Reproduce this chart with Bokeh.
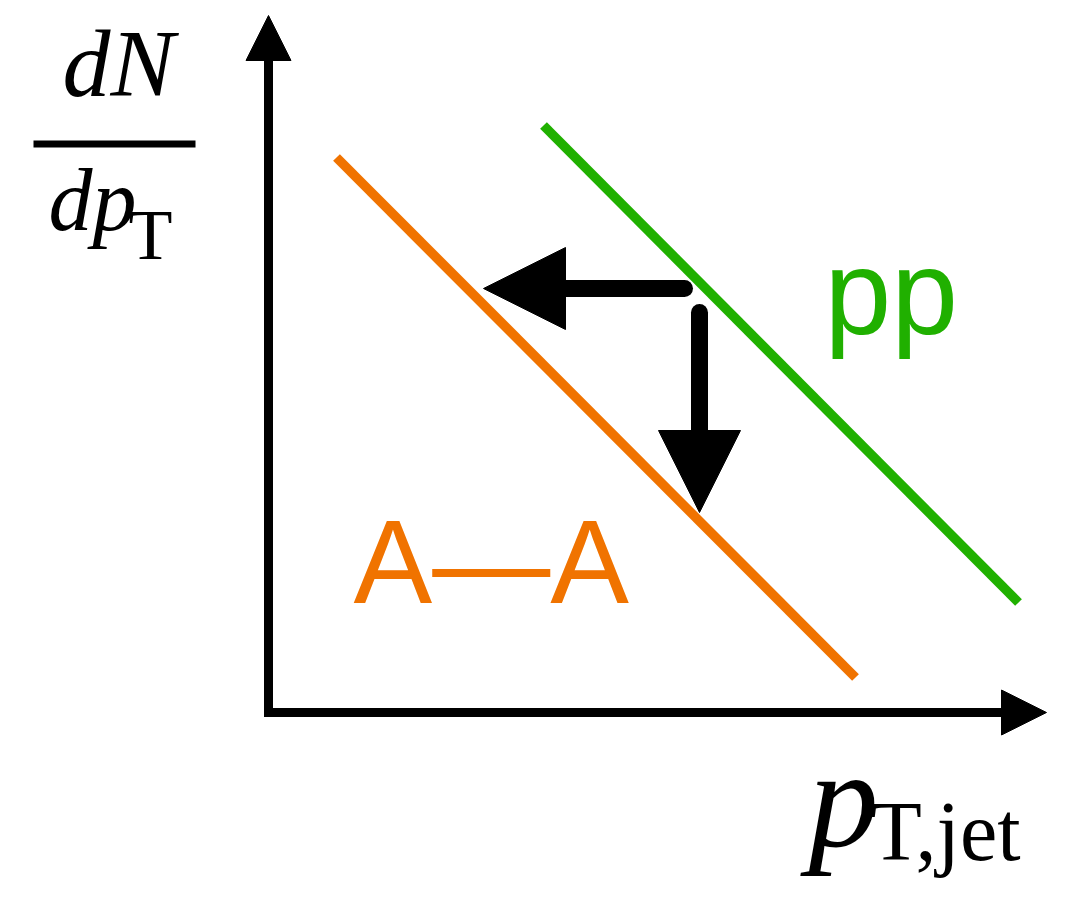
from bokeh.plotting import figure
from bokeh.models import Range1d, Arrow, NormalHead
from bokeh.core.properties import value
from bokeh.embed import file_html
from bokeh.resources import INLINE

# Schematic jet spectra (arbitrary units, origin at the corner of the axes)
pt_pp = [275, 750]
yield_pp = [587, 110]
pt_aa = [68, 587]
yield_aa = [555, 35]

# Axis extents
x_axis_end = 778
y_axis_end = 697

# Jet energy loss: shift in pT (left) and drop in yield (down)
shift_pt_start = 416
shift_pt_end = 215
shift_pt_level = 424
drop_start = 400
drop_end = 200
drop_pt = 431
head_len = 82

GREEN = "#20B000"
ORANGE = "#F07300"

p = figure(width=1092, height=909, output_backend="svg", toolbar_location=None,
           x_range=Range1d(-268, 824), y_range=Range1d(-197, 712),
           min_border=0, background_fill_color="white", border_fill_color="white")
p.axis.visible = False
p.grid.visible = False
p.outline_line_color = None

# spectra
p.line(pt_pp, yield_pp, line_color=GREEN, line_width=9.5)
p.line(pt_aa, yield_aa, line_color=ORANGE, line_width=9.5)

# axes drawn as arrows
p.add_layout(Arrow(end=NormalHead(size=45, fill_color="black", line_color="black", line_width=1),
                   x_start=0, y_start=-4.5, x_end=0, y_end=y_axis_end,
                   line_width=9, line_color="black"))
p.add_layout(Arrow(end=NormalHead(size=45, fill_color="black", line_color="black", line_width=1),
                   x_start=-4.5, y_start=0, x_end=x_axis_end, y_end=0,
                   line_width=9, line_color="black"))

# shift arrows: rounded shafts, then solid heads
p.segment(x0=[shift_pt_start, drop_pt],
          y0=[shift_pt_level, drop_start],
          x1=[shift_pt_end + head_len - 5, drop_pt],
          y1=[shift_pt_level, drop_end + head_len - 5],
          line_color="black", line_width=17, line_cap="round")
p.add_layout(Arrow(end=NormalHead(size=head_len, fill_color="black", line_color="black", line_width=1),
                   x_start=shift_pt_start, y_start=shift_pt_level,
                   x_end=shift_pt_end, y_end=shift_pt_level, line_color=None))
p.add_layout(Arrow(end=NormalHead(size=head_len, fill_color="black", line_color="black", line_width=1),
                   x_start=drop_pt, y_start=drop_start,
                   x_end=drop_pt, y_end=drop_end, line_color=None))

# series labels
p.text(x=[556], y=[421], text=["pp"], text_color=GREEN, text_font=value("Liberation Sans"),
       text_font_size="120px", text_align="left", text_baseline="alphabetic")
p.text(x=[85], y=[151], text=["A\u2014A"], text_color=ORANGE, text_font=value("Liberation Sans"),
       text_font_size="118px", text_align="left", text_baseline="alphabetic")

# y-axis title: dN / dp_T
p.text(x=[-150], y=[649], text=["dN"], text_color="black", text_font=value("Liberation Serif"),
       text_font_style="italic", text_font_size="96px", text_align="center",
       text_baseline="alphabetic")
p.segment(x0=[-235], y0=[568.5], x1=[-73], y1=[568.5], line_color="black", line_width=7)
p.text(x=[-220], y=[512], text=["dp"], text_color="black", text_font=value("Liberation Serif"),
       text_font_style="italic", text_font_size="88px", text_align="left",
       text_baseline="alphabetic")
p.text(x=[-140], y=[478], text=["T"], text_color="black", text_font=value("Liberation Serif"),
       text_font_size="72px", text_align="left", text_baseline="alphabetic")

# x-axis title: p_T,jet
p.text(x=[540], y=[-86], text=["p"], text_color="black", text_font=value("Liberation Serif"),
       text_font_style="italic", text_font_size="140px", text_align="left",
       text_baseline="alphabetic")
p.text(x=[602], y=[-119], text=["T,jet"], text_color="black", text_font=value("Liberation Serif"),
       text_font_size="84px", text_align="left", text_baseline="alphabetic")

open("out.html", "w").write(file_html(p, INLINE))
